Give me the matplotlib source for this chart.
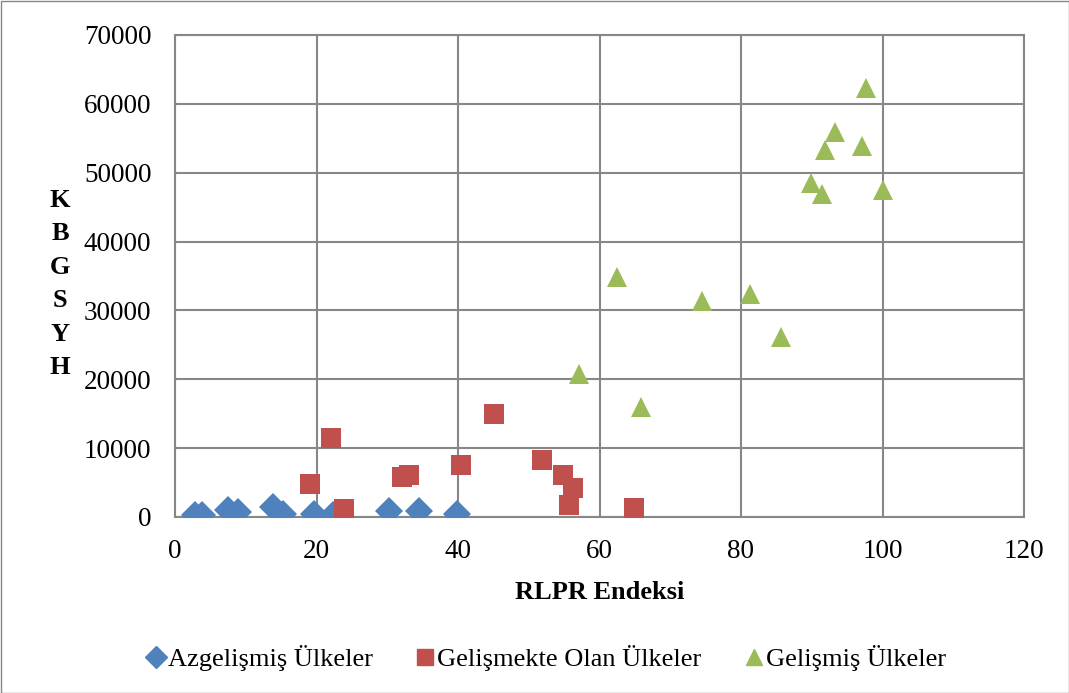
import matplotlib.pyplot as plt
from matplotlib.lines import Line2D

plt.rcParams['font.family'] = ['Liberation Serif', 'DejaVu Serif']

# Azgelismis
az_x = [2.8, 3.8, 7.5, 8.9, 13.8, 15.3, 19.6, 22.4, 30.2, 34.5, 39.8]
az_y = [300, 300, 1000, 700, 1400, 400, 400, 300, 800, 800, 400]

# Gelismekte olan
go_x = [19.1, 22.05, 23.9, 32.1, 33.1, 40.4, 45.1, 51.9, 54.8, 56.2, 55.7, 64.9]
go_y = [4750, 11420, 1120, 5760, 6100, 7500, 14900, 8270, 6100, 4250, 1740, 1260]

# Gelismis
g_x = [97.7, 93.3, 91.9, 97.1, 89.9, 91.4, 100.1, 62.5, 74.5, 81.3, 85.6, 57.1, 65.9]
g_y = [62370, 55920, 53370, 53900, 48520, 46980, 47560, 34880, 31400, 32320, 26080, 20710, 15920]

labels = ['Azgelişmiş Ülkeler', 'Gelişmekte Olan Ülkeler', 'Gelişmiş Ülkeler']
colors = ['#4F81BD', '#C0504D', '#9BBB59']

fig = plt.figure(figsize=(10.69, 6.93), dpi=100)
ax = fig.add_axes([175/1069, 1 - 517/693, (1024-175)/1069, (517-35)/693])

ax.plot(az_x, az_y, 'D', color=colors[0], markersize=14.5, markeredgewidth=0, zorder=3)
ax.plot(go_x, go_y, 's', color=colors[1], markersize=14.4, markeredgewidth=0, zorder=3)
ax.plot(g_x, g_y, '^', color=colors[2], markersize=15, markeredgewidth=0, zorder=3)

ax.set_xlim(0, 120)
ax.set_ylim(0, 70000)
ax.set_xticks(range(0, 121, 20))
ax.set_yticks(range(0, 70001, 10000))
ax.grid(True, color='#878787', linewidth=1.5)
ax.set_axisbelow(True)
for s in ax.spines.values():
    s.set_color('#878787')
    s.set_linewidth(1.5)
ax.tick_params(axis='y', length=0, labelsize=19.5, pad=17, colors='black')
ax.tick_params(axis='x', length=0, labelsize=19.5, pad=16, colors='black')

ax.set_xlabel('RLPR Endeksi', fontsize=19, fontweight='bold', labelpad=12)
fig.text(60/1069, 1 - 284/693, 'K\nB\nG\nS\nY\nH', fontsize=19, fontweight='bold',
         ha='center', va='center', linespacing=1.58)

handles = [Line2D([], [], marker='D', linestyle='', color=colors[0], markersize=11),
           Line2D([], [], marker='s', linestyle='', color=colors[1], markersize=12),
           Line2D([], [], marker='^', linestyle='', color=colors[2], markersize=12)]
fig.legend(handles, labels, loc='center', bbox_to_anchor=(545/1069, 1 - 658/693), ncol=3,
           frameon=False, fontsize=19, handletextpad=0.0, columnspacing=1.55, handlelength=0.9)

fig.patches.append(plt.Rectangle((0.5/1069, 0.5/693), 1 - 1/1069, 1 - 1/693,
                                 transform=fig.transFigure, fill=False,
                                 edgecolor='#868686', linewidth=1))

fig.savefig('out.png', dpi=100)
